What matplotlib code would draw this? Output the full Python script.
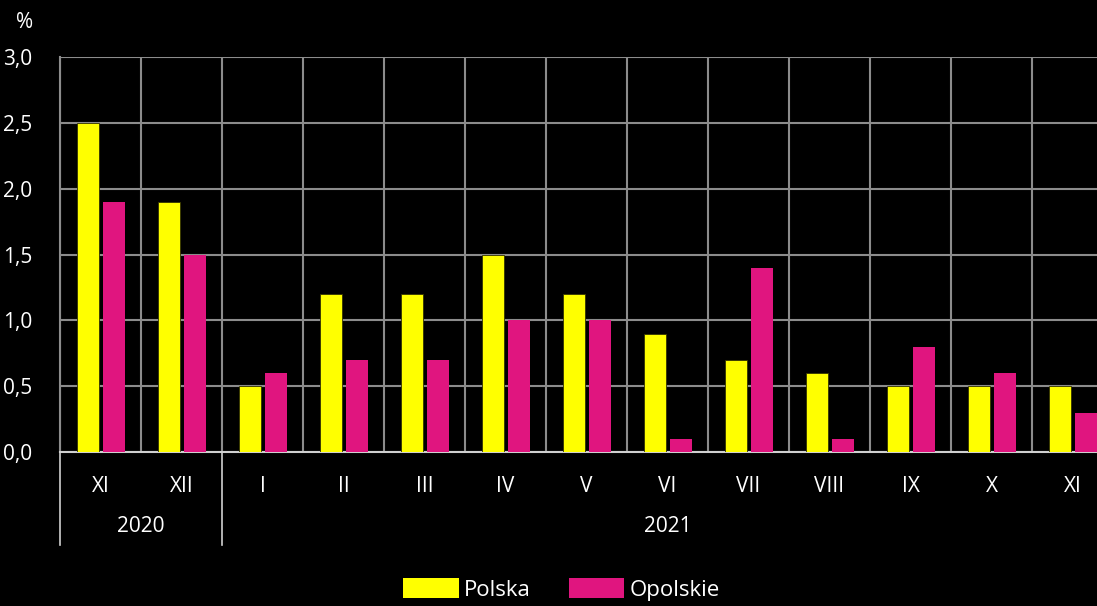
import numpy as np
import matplotlib
matplotlib.use("Agg")
import matplotlib.pyplot as plt
from matplotlib.patches import Patch
from matplotlib.lines import Line2D

months = ["XI", "XII", "I", "II", "III", "IV", "V", "VI", "VII", "VIII", "IX", "X", "XI"]
years = ["2020", "2021"]
year_spans = [(0, 2), (2, 13)]
polska = [2.5, 1.9, 0.5, 1.2, 1.2, 1.5, 1.2, 0.9, 0.7, 0.6, 0.5, 0.5, 0.5]
opolskie = [1.9, 1.5, 0.6, 0.7, 0.7, 1.0, 1.0, 0.1, 1.4, 0.1, 0.8, 0.6, 0.3]
yticks = [0.0, 0.5, 1.0, 1.5, 2.0, 2.5, 3.0]

YELLOW = "#FFFF00"
MAGENTA = "#E0157F"
GRID = "#8c8c8c"
LIGHT = "#d0d0d0"

plt.rcParams["font.family"] = ["Open Sans", "DejaVu Sans"]
plt.rcParams["text.color"] = "white"

fig = plt.figure(figsize=(10.97, 6.06), dpi=100, facecolor="black")
W, H = 1097, 606
ax = fig.add_axes([60 / W, (H - 452) / H, 1053 / W, 395 / H], facecolor="black")

x = np.arange(len(months))
bw = 0.27
ax.bar(x - 0.155, polska, bw, color=YELLOW, edgecolor="#333300", linewidth=0.6, zorder=3)
ax.bar(x + 0.165, opolskie, bw, color=MAGENTA, zorder=3)

ax.set_xlim(-0.5, len(months) - 0.5)
ax.set_ylim(0, 3.0)
ax.set_yticks(yticks)
ax.set_yticklabels([f"{v:.1f}".replace(".", ",") for v in yticks], fontsize=15, color="white")
ax.set_xticks(x)
ax.set_xticklabels(months, fontsize=15, color="white")
ax.set_xticks(np.arange(-0.5, len(months)), minor=True)
ax.tick_params(axis="both", which="both", length=0)
ax.tick_params(axis="x", pad=17)
ax.tick_params(axis="y", pad=20)

ax.grid(axis="y", which="major", color=GRID, linewidth=1.5, zorder=0)
ax.grid(axis="x", which="minor", color=GRID, linewidth=1.5, zorder=0)

for s in ["top", "right"]:
    ax.spines[s].set_visible(False)
ax.spines["left"].set_color(GRID)
ax.spines["left"].set_linewidth(1.5)
ax.spines["bottom"].set_color(LIGHT)
ax.spines["bottom"].set_linewidth(1.5)

# year group labels below the month labels
trans = ax.get_xaxis_transform()
y_sep = -(545 - 452) / 395
for lab, (a, b) in zip(years, year_spans):
    ax.text((a + b - 1) / 2, -(527 - 452) / 395, lab, transform=trans,
            ha="center", va="center", fontsize=15, color="white")
for a, b in year_spans:
    ax.add_line(Line2D([a - 0.5, a - 0.5], [0, y_sep], transform=trans,
                       color=LIGHT, linewidth=1.2, clip_on=False))

fig.text(25 / W, 1 - 22 / H, "%", ha="center", va="center", fontsize=15, color="white")

handles = [Patch(facecolor=YELLOW, edgecolor="none", label="Polska"),
           Patch(facecolor=MAGENTA, edgecolor="none", label="Opolskie")]
fig.legend(handles=handles, loc="lower center", bbox_to_anchor=(0.512, -0.024), ncol=2,
           frameon=False, fontsize=16, handlelength=2.5, handleheight=1.05,
           handletextpad=0.25, columnspacing=1.7, labelcolor="white")

fig.savefig("out.png", dpi=100, facecolor="black")
